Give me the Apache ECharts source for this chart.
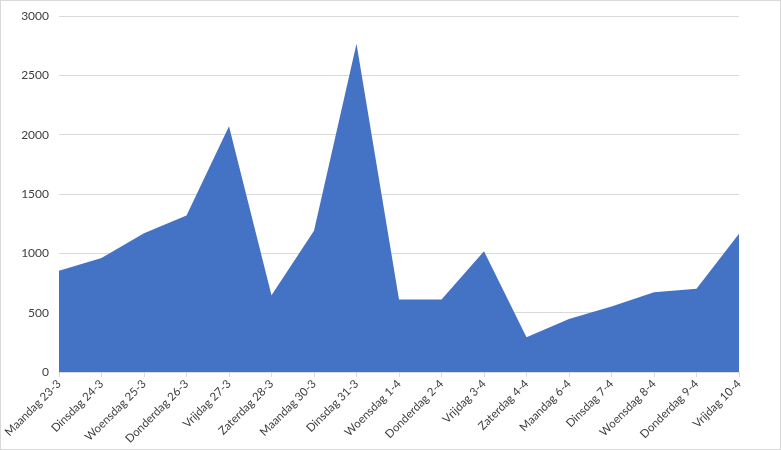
<!DOCTYPE html>
<html>
<head>
<meta charset="utf-8">
<script src="https://cdn.jsdelivr.net/npm/echarts@6/dist/echarts.min.js"></script>
<style>
html,body{margin:0;padding:0;background:#fff;}
#c{width:781px;height:450px;box-sizing:border-box;border:1px solid #d9d9d9;}
</style>
</head>
<body>
<div id="c"></div>
<script>
const categories = ["Maandag 23-3","Dinsdag 24-3","Woensdag 25-3","Donderdag 26-3","Vrijdag 27-3","Zaterdag 28-3","Maandag 30-3","Dinsdag 31-3","Woensdag 1-4","Donderdag 2-4","Vrijdag 3-4","Zaterdag 4-4","Maandag 6-4","Dinsdag 7-4","Woensdag 8-4","Donderdag 9-4","Vrijdag 10-4"];
const values = [854, 961, 1170, 1318, 2071, 646, 1191, 2766, 612, 612, 1017, 292, 447, 553, 671, 702, 1166];
const yTicks = [0, 500, 1000, 1500, 2000, 2500, 3000];

const chart = echarts.init(document.getElementById('c'), null, {renderer:'canvas'});
chart.setOption({
  animation:false,
  grid:{left:58, right:41, top:15, bottom:77, containLabel:false, outerBoundsMode:'none'},
  xAxis:{
    type:'category', data:categories, boundaryGap:false,
    axisLine:{lineStyle:{color:'#d9d9d9'}},
    axisTick:{show:true, alignWithLabel:true, length:5, lineStyle:{color:'#d9d9d9'}},
    axisLabel:{rotate:45, interval:0, color:'#404040', fontFamily:'Lato', fontSize:11.5, margin:10}
  },
  yAxis:{
    type:'value', min:yTicks[0], max:yTicks[yTicks.length-1], interval:500,
    axisLine:{show:false}, axisTick:{show:false},
    splitLine:{lineStyle:{color:'#d9d9d9', width:1}},
    axisLabel:{color:'#404040', fontFamily:'Lato', fontSize:12, margin:10, formatter:function(v){return String(v);}}
  },
  series:[{
    type:'line', data:values, symbol:'none',
    lineStyle:{width:0}, areaStyle:{color:'#4472c4', opacity:1},
    itemStyle:{color:'#4472c4'}
  }]
});
</script>
</body>
</html>
